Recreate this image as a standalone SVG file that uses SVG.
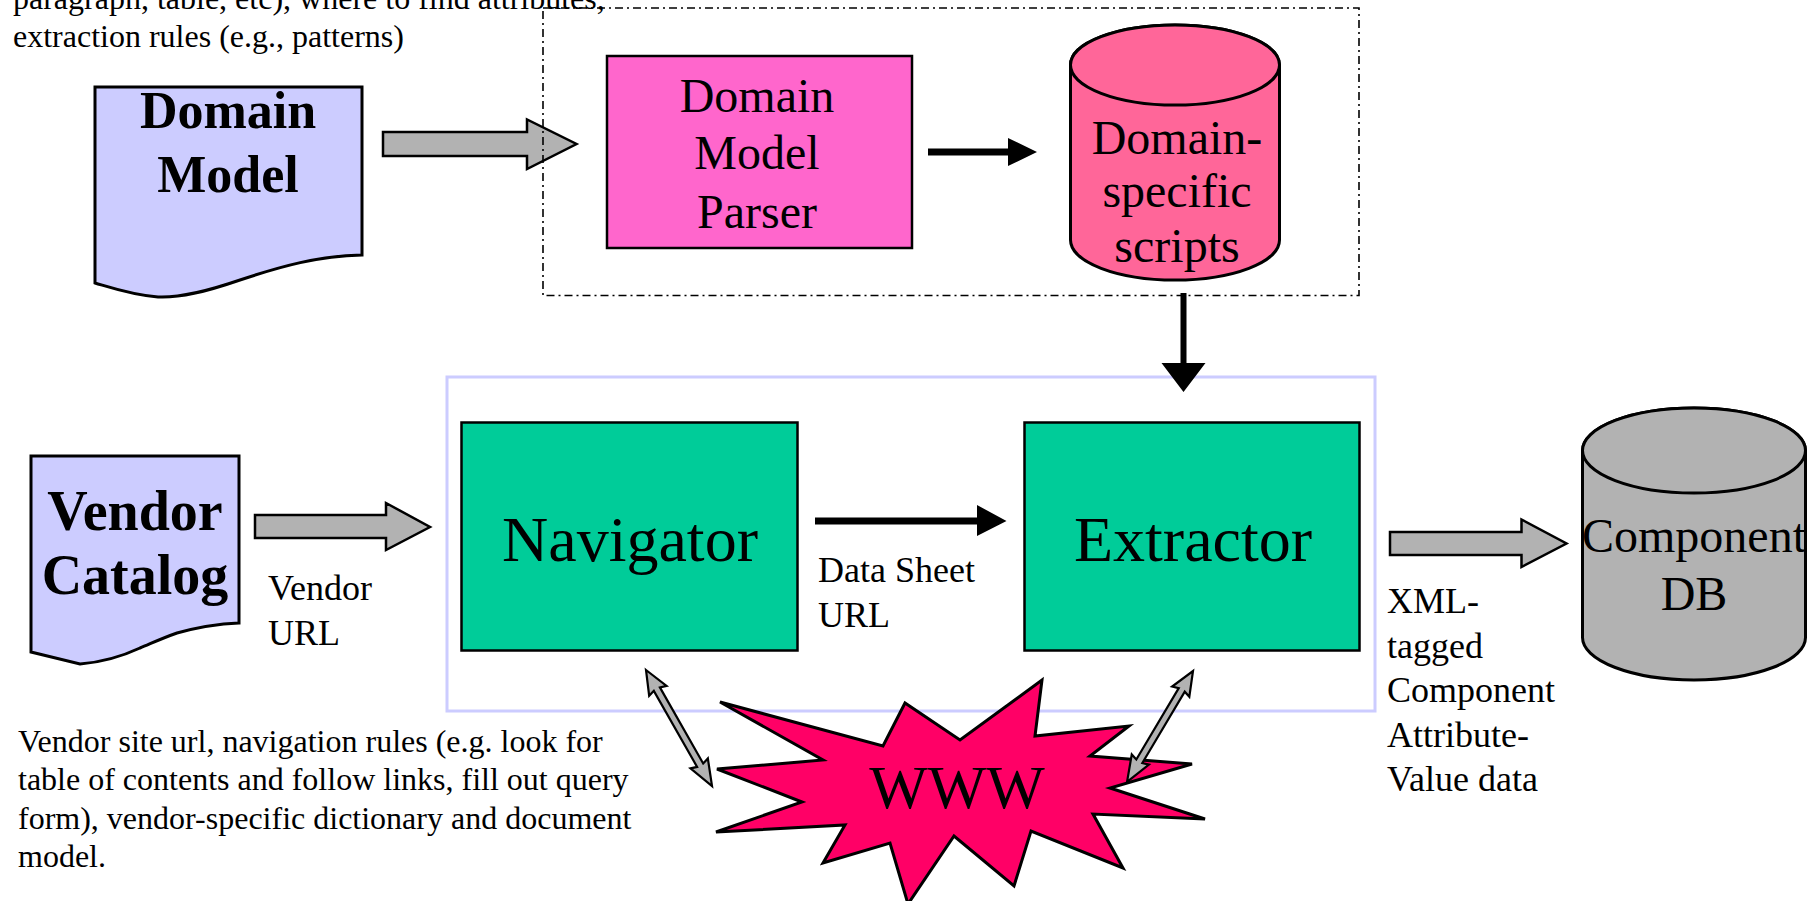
<svg xmlns="http://www.w3.org/2000/svg" width="1820" height="901" viewBox="0 0 1820 901">
  <style>
    text { font-family: "Liberation Serif", "Times New Roman", serif; fill: #000; }
    .doc { fill: #CCCCFF; stroke: #000; stroke-width: 3; }
    .docLabel { font-weight: bold; font-size: 52px; text-anchor: middle; }
    .docLabel.wide { font-size: 56px; }
    .box { stroke: #000; stroke-width: 2.5; }
    .big { font-size: 48px; text-anchor: middle; }
    .huge { font-size: 64px; text-anchor: middle; }
    .note { font-size: 32px; }
    .lbl { font-size: 36px; }
    .block { fill: #B2B2B2; stroke: #000; stroke-width: 2.5; stroke-linejoin: miter; }
    .solid { fill: #000; stroke: none; }
    .dbl { fill: #B2B2B2; stroke: #000; stroke-width: 2.2; stroke-linejoin: miter; }
    .cyl { stroke: #000; stroke-width: 3; }
  </style>

  <!-- background -->
  <rect x="0" y="0" width="1820" height="901" fill="#FFFFFF"/>

  <!-- annotation texts -->
  <g id="note-domain">
    <text class="note" x="13" y="9">paragraph, table, etc), where to find attributes,</text>
    <text class="note" x="13" y="46.5">extraction rules (e.g., patterns)</text>
  </g>
  <g id="note-vendor">
    <text class="note" x="18" y="752">Vendor site url, navigation rules (e.g. look for</text>
    <text class="note" x="18" y="790">table of contents and follow links, fill out query</text>
    <text class="note" x="18" y="828.5">form), vendor-specific dictionary and document</text>
    <text class="note" x="18" y="867">model.</text>
  </g>

  <!-- extraction engine container -->
  <rect id="engine-frame" x="447" y="377" width="928" height="334" fill="none" stroke="#CCCCFF" stroke-width="3"/>

  <!-- nodes -->
  <g id="domain-model">
    <path class="doc" d="M95,87 H362 V255 C318,256 282,266 240,280 C205,292 180,298 158,297 C132,295 112,288 95,283 Z"/>
    <text class="docLabel" x="228" y="128">Domain</text>
    <text class="docLabel" x="228" y="192">Model</text>
  </g>

  <g id="domain-model-parser">
    <rect class="box" x="607" y="56" width="305" height="192" fill="#FF66CC"/>
    <text class="big" x="757" y="112">Domain</text>
    <text class="big" x="757" y="169">Model</text>
    <text class="big" x="757" y="228">Parser</text>
  </g>

  <g id="domain-scripts">
    <path class="cyl" fill="#FF6699" d="M1070.5,65 V240 A104.5,40 0 0 0 1279.5,240 V65 A104.5,40 0 0 0 1070.5,65 Z"/>
    <ellipse class="cyl" fill="#FF6699" cx="1175" cy="65" rx="104.5" ry="40"/>
    <text class="big" x="1177" y="154">Domain-</text>
    <text class="big" x="1177" y="207">specific</text>
    <text class="big" x="1177" y="262">scripts</text>
  </g>

  <g id="vendor-catalog">
    <path class="doc" d="M31,456 H239 V623 C215,624 195,628 177,633 C160,639 150,644 140,648 C125,655 105,662 80,664 L31,652 Z"/>
    <text class="docLabel wide" x="135" y="530">Vendor</text>
    <text class="docLabel wide" x="135" y="594">Catalog</text>
  </g>

  <g id="navigator">
    <rect class="box" x="461.5" y="422.5" width="336" height="228" fill="#00CC99"/>
    <text class="huge" x="630" y="561">Navigator</text>
  </g>

  <g id="extractor">
    <rect class="box" x="1024.5" y="422.5" width="335" height="228" fill="#00CC99"/>
    <text class="huge" x="1193" y="561">Extractor</text>
  </g>

  <g id="component-db">
    <path class="cyl" fill="#B2B2B2" d="M1582.5,450.5 V637.5 A111.5,42.5 0 0 0 1805.5,637.5 V450.5 A111.5,42.5 0 0 0 1582.5,450.5 Z"/>
    <ellipse class="cyl" fill="#B2B2B2" cx="1694" cy="450.5" rx="111.5" ry="42.5"/>
    <text class="big" x="1694" y="552">Component</text>
    <text class="big" x="1694" y="610">DB</text>
  </g>

  <g id="www">
    <polygon fill="#FF0066" stroke="#000" stroke-width="3" stroke-linejoin="miter"
      points="720,702 883,746 905,703 960,740 1042,680 1035,736 1129,726 1090,756 1192,764 1110,788 1205,819 1093,814 1123,868 1031,831 1014,886 954,836 908,904 890,843 823,863 845,825 716,832 802,802 717,769 823,760"/>
    <text x="957" y="808" font-size="62" text-anchor="middle">WWW</text>
  </g>

  <!-- connectors -->
  <g id="connectors">
    <!-- Domain Model to parser -->
    <polygon class="block" points="383,132 527,132 527,119.5 576.5,144 527,169 527,156 383,156"/>
    <!-- parser to scripts -->
    <polygon class="solid" points="928,148.5 1008,148.5 1008,138 1037,152 1008,166 1008,155.5 928,155.5"/>
    <!-- scripts down to extractor -->
    <polygon class="solid" points="1180.5,293 1186.5,293 1186.5,363 1205.5,363 1183.5,392 1161.5,363 1180.5,363"/>
    <!-- vendor catalog to navigator -->
    <polygon class="block" points="255,515 386,515 386,503 430,527 386,550 386,538 255,538"/>
    <!-- navigator to extractor -->
    <polygon class="solid" points="815,517.5 977,517.5 977,505 1006.5,521 977,536 977,524.5 815,524.5"/>
    <!-- extractor to component db -->
    <polygon class="block" points="1390,532 1521.5,532 1521.5,519.5 1566.5,543.5 1521.5,567 1521.5,555 1390,555"/>
    <!-- navigator and web exchange -->
    <polygon class="dbl" transform="translate(646,670) rotate(60.36)"
      points="0,0 24,-10 22,-3.5 109.5,-3.5 107.5,-10 133.5,0 107.5,10 109.5,3.5 22,3.5 24,10"/>
    <!-- extractor and web exchange -->
    <polygon class="dbl" transform="translate(1193,671) rotate(120.74)"
      points="0,0 24,-10 22,-3.5 105,-3.5 103,-10 129,0 103,10 105,3.5 22,3.5 24,10"/>
    <!-- edge labels -->
    <text class="lbl" x="268" y="600">Vendor</text>
    <text class="lbl" x="268" y="645">URL</text>
    <text class="lbl" x="818" y="582">Data Sheet</text>
    <text class="lbl" x="818" y="627">URL</text>
    <text class="lbl" x="1387" y="613">XML-</text>
    <text class="lbl" x="1387" y="657.5">tagged</text>
    <text class="lbl" x="1387" y="702">Component</text>
    <text class="lbl" x="1387" y="746.5">Attribute-</text>
    <text class="lbl" x="1387" y="791">Value data</text>
  </g>

  <!-- parser subsystem boundary -->
  <rect id="parser-frame" x="543" y="8" width="816" height="287.5" fill="none" stroke="#000" stroke-width="1.6" stroke-dasharray="8 4 2 4"/>
</svg>
